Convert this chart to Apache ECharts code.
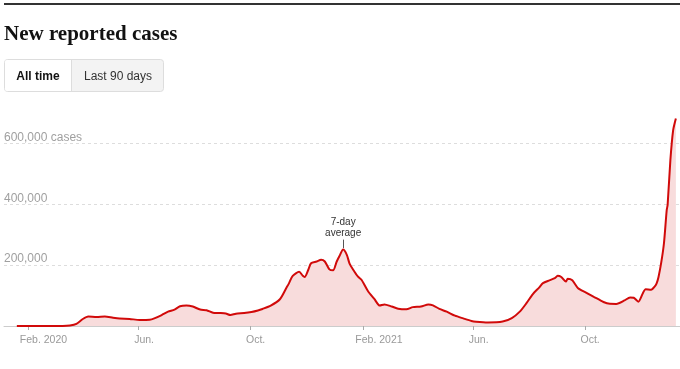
<!DOCTYPE html>
<html><head><meta charset="utf-8">
<script src="https://cdn.jsdelivr.net/npm/echarts@6/dist/echarts.min.js"></script>
<style>html,body{margin:0;padding:0;background:#fff;}#c{width:680px;height:369px;}</style>
</head><body><div id="c"></div>
<script>
// ---- data ----
const dates = ['2020-01-20','2020-02-15','2020-03-10','2020-03-18','2020-03-25','2020-04-01','2020-04-07','2020-04-16','2020-04-25','2020-05-04','2020-05-11','2020-05-22','2020-06-02','2020-06-13','2020-06-18','2020-06-26','2020-07-03','2020-07-10','2020-07-16','2020-07-23','2020-07-30','2020-08-07','2020-08-14','2020-08-21','2020-08-28','2020-09-04','2020-09-09','2020-09-15','2020-09-24','2020-10-02','2020-10-09','2020-10-14','2020-10-23','2020-11-02','2020-11-09','2020-11-12','2020-11-16','2020-11-23','2020-11-27','2020-11-29','2020-12-03','2020-12-06','2020-12-12','2020-12-17','2020-12-21','2020-12-26','2020-12-30','2021-01-03','2021-01-06','2021-01-10','2021-01-14','2021-01-17','2021-01-21','2021-01-26','2021-01-30','2021-02-06','2021-02-13','2021-02-19','2021-02-24','2021-03-04','2021-03-11','2021-03-20','2021-03-27','2021-04-05','2021-04-13','2021-04-18','2021-04-25','2021-05-03','2021-05-12','2021-05-21','2021-05-30','2021-06-04','2021-06-17','2021-07-03','2021-07-13','2021-07-22','2021-07-29','2021-08-05','2021-08-12','2021-08-16','2021-08-23','2021-08-29','2021-09-01','2021-09-05','2021-09-10','2021-09-12','2021-09-17','2021-09-23','2021-10-02','2021-10-11','2021-10-21','2021-10-28','2021-11-04','2021-11-13','2021-11-19','2021-11-23','2021-11-28','2021-12-03','2021-12-06','2021-12-12','2021-12-16','2021-12-18','2021-12-20','2021-12-23','2021-12-26','2021-12-29','2021-12-30','2022-01-02','2022-01-05','2022-01-08'];
const cases = [0,0,0,1500,7000,23000,31000,29500,31000,27000,24500,23000,20000,20600,25000,36000,47000,54000,65000,67500,64000,54000,52000,43600,42600,41000,36000,40500,42600,46000,51000,56000,67000,88000,125000,141000,165000,178000,165000,161000,185000,206000,212000,218000,212000,186000,183000,212000,230000,251000,234000,205000,185000,163000,152000,115000,89000,67000,71000,64000,57000,55000,62000,64000,71000,68000,56000,47000,34000,25000,16500,14000,11500,14500,26000,48000,75000,105000,127000,141000,150000,157000,165000,161000,146000,155000,150000,125000,110000,95000,79000,73000,72500,84000,94000,93000,80000,108000,121000,119000,130000,140000,160000,208000,272000,381000,398000,545000,643000,682000];
const tickDates = ['2020-02-01','2020-06-01','2020-10-01','2021-02-01','2021-06-01','2021-10-01'];
const tickLabels = ['Feb. 2020','Jun.','Oct.','Feb. 2021','Jun.','Oct.'];
const yTicks = [200000, 400000, 600000];
const yTickLabels = ['200,000', '400,000', '600,000 cases'];
const peakDate = '2021-01-10';
const peakValue = 251000;
const annotationText = '7-day\naverage';
const titleText = 'New reported cases';
const buttonLabels = ['All time', 'Last 90 days'];

// ---- helpers ----
const t = s => { const p = s.split('-').map(Number); return Date.UTC(p[0], p[1]-1, p[2]); };
const DAY = 86400000;
const gridLeft = 4, gridRight = 0;
const xMin = t('2020-01-06'), xMax = t('2022-01-12') + DAY/2;
const pxPerMs = (680 - gridLeft - gridRight) / (xMax - xMin);
const tickTs = tickDates.map(t);
const labelTs = tickTs.map((v, i) => Math.round(v - (tickLabels[i].length > 4 ? 8 : 4.6) / pxPerMs));
const findLabel = v => { for (let i = 0; i < labelTs.length; i++) if (Math.abs(labelTs[i] - v) < 1000) return tickLabels[i]; return ''; };

const chart = echarts.init(document.getElementById('c'), null, {renderer: 'canvas'});
const option = {
  animation: false,
  grid: {left: gridLeft, right: gridRight, top: 113, bottom: 43, containLabel: false},
  xAxis: {
    type: 'value', min: xMin, max: xMax,
    axisLine: {show: true, lineStyle: {color: '#cccccc', width: 1}},
    axisTick: {show: true, customValues: tickTs, length: 4, lineStyle: {color: '#aaaaaa'}},
    axisLabel: {
      customValues: labelTs, align: 'left', margin: 9,
      color: '#999999', fontSize: 10.5, fontFamily: 'Liberation Sans, Arial, sans-serif',
      formatter: v => findLabel(v)
    },
    splitLine: {show: false}
  },
  yAxis: {
    type: 'value', min: 0, max: 700000, interval: 200000,
    axisLine: {show: false}, axisTick: {show: false},
    axisLabel: {
      inside: true, align: 'left', verticalAlign: 'bottom', margin: 0,
      showMinLabel: false, showMaxLabel: false,
      color: '#a0a0a0', fontSize: 12, fontFamily: 'Liberation Sans, Arial, sans-serif',
      formatter: v => { const i = yTicks.indexOf(v); return i >= 0 ? yTickLabels[i] : ''; }
    },
    splitLine: {show: true, showMinLine: false, showMaxLine: false, lineStyle: {color: '#dddddd', type: [3, 3], width: 1}}
  },
  series: [{
    type: 'line',
    data: dates.map((d, i) => [t(d), cases[i]]),
    showSymbol: false, symbol: 'none', smooth: 0.25,
    lineStyle: {color: '#d10a0a', width: 2},
    areaStyle: {color: '#f8dcdc', opacity: 1},
    z: 3
  }]
};
chart.setOption(option);

// annotation & header elements
const pk = chart.convertToPixel({seriesIndex: 0}, [t(peakDate), peakValue]);
chart.setOption({graphic: [
  {type: 'rect', shape: {x: 4, y: 3, width: 676, height: 2}, style: {fill: '#333333'}},
  {type: 'text', left: 4, top: 24, style: {text: titleText, font: 'bold 21px "Liberation Serif", "Times New Roman", serif', fill: '#121212'}},
  {type: 'rect', shape: {x: 4.5, y: 59.5, width: 159, height: 32, r: 3}, style: {fill: '#f3f3f3', stroke: '#dddddd', lineWidth: 1}},
  {type: 'rect', shape: {x: 5, y: 60, width: 66.5, height: 31, r: [2, 0, 0, 2]}, style: {fill: '#ffffff'}},
  {type: 'line', shape: {x1: 71.5, y1: 60, x2: 71.5, y2: 91}, style: {stroke: '#dddddd', lineWidth: 1}},
  {type: 'text', x: 38, y: 76.5, style: {text: buttonLabels[0], font: 'bold 12px "Liberation Sans", Arial, sans-serif', fill: '#121212', align: 'center', verticalAlign: 'middle'}},
  {type: 'text', x: 118, y: 76.5, style: {text: buttonLabels[1], font: '12px "Liberation Sans", Arial, sans-serif', fill: '#333333', align: 'center', verticalAlign: 'middle'}},
  {type: 'line', shape: {x1: Math.round(pk[0]) + 0.5, y1: pk[1] - 10, x2: Math.round(pk[0]) + 0.5, y2: pk[1] - 1.5}, style: {stroke: '#555555', lineWidth: 1}},
  {type: 'text', x: pk[0], y: pk[1] - 11, style: {text: annotationText, font: '10px "Liberation Sans", Arial, sans-serif', fill: '#333333', align: 'center', verticalAlign: 'bottom', lineHeight: 11}}
]});
</script>
</body></html>
